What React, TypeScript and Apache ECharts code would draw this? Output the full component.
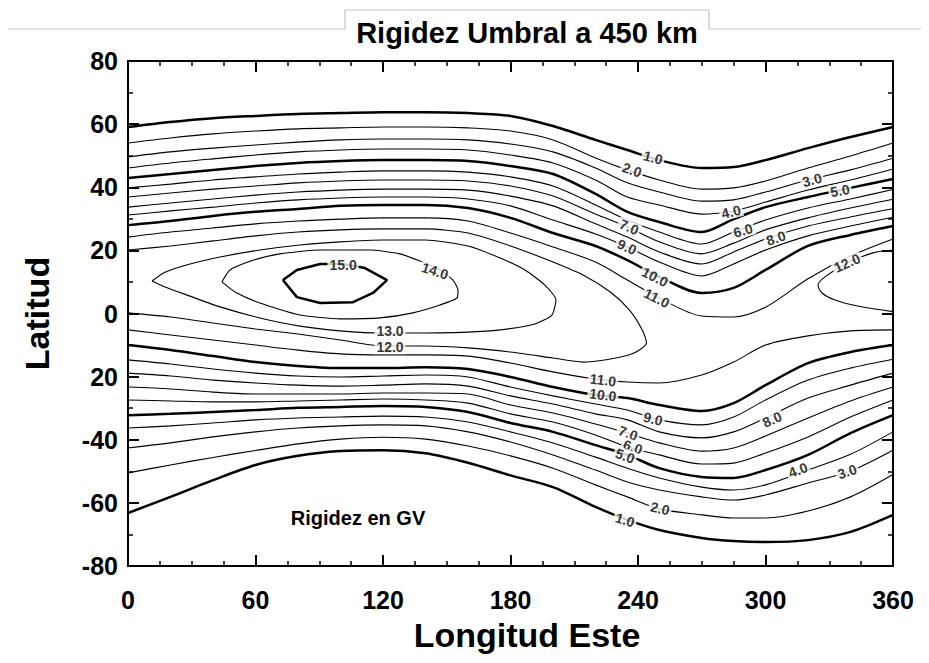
import React, { useEffect, useRef } from "react";
import * as echarts from "echarts";

// Longitude columns at which the open contours were read
const LONS = [0, 20, 40, 60, 80, 100, 120, 140, 160, 180, 200, 220, 235, 250, 270, 285, 300, 320, 340, 360];

// Northern contours (latitude at each LONS column)
const N1 = [59.1, 60.7, 61.9, 62.6, 63.2, 63.5, 63.8, 63.8, 63.5, 62.6, 59.4, 55.0, 51.8, 48.6, 46.1, 46.4, 48.6, 52.4, 55.9, 59.1];
const N2 = [54.0, 55.6, 56.9, 57.8, 58.5, 58.8, 59.1, 59.1, 58.8, 57.8, 55.0, 49.3, 45.5, 42.3, 39.4, 39.8, 42.0, 46.1, 49.9, 54.0];
const N3 = [49.6, 51.2, 52.4, 53.4, 54.3, 55.0, 55.3, 55.3, 55.0, 53.7, 51.2, 46.1, 41.4, 38.5, 35.6, 36.0, 38.5, 42.3, 45.5, 49.2];
const N4 = [46.1, 47.7, 49.0, 50.2, 51.2, 51.8, 52.1, 52.1, 51.8, 50.2, 47.7, 42.3, 36.9, 34.4, 31.5, 32.5, 35.3, 39.1, 42.3, 45.8];
const N5 = [42.9, 44.2, 45.5, 46.7, 47.7, 48.3, 48.6, 48.6, 48.3, 46.7, 44.2, 37.9, 32.2, 29.0, 25.8, 29.9, 33.7, 36.9, 39.8, 42.6];
const N6 = [39.8, 41.0, 42.3, 43.3, 44.2, 44.8, 45.2, 45.2, 44.8, 43.3, 40.4, 34.4, 29.6, 25.8, 22.0, 25.8, 29.6, 33.4, 36.3, 39.3];
const N7 = [36.9, 38.2, 39.4, 40.4, 41.4, 42.0, 42.3, 42.3, 42.0, 40.4, 37.2, 31.5, 27.4, 22.7, 18.9, 22.3, 26.5, 30.3, 33.4, 36.2];
const N8 = [33.7, 35.0, 36.3, 37.5, 38.5, 39.1, 39.4, 39.4, 39.1, 37.2, 34.1, 28.4, 24.2, 19.5, 15.7, 19.5, 23.6, 27.7, 30.6, 33.2];
const N9 = [31.2, 32.5, 33.7, 35.0, 36.0, 36.6, 36.9, 36.9, 36.3, 34.1, 29.6, 25.2, 21.1, 16.3, 11.9, 15.7, 20.1, 24.6, 27.7, 30.5];
const N10 = [28.0, 29.3, 30.9, 32.2, 33.1, 34.1, 34.4, 34.4, 33.4, 30.3, 25.5, 21.4, 16.9, 11.6, 6.5, 8.1, 13.8, 21.4, 24.9, 27.7];
const N11 = [24.2, 25.8, 27.1, 28.4, 29.3, 29.9, 30.3, 30.3, 29.3, 25.5, 21.1, 16.3, 10.6, 4.9, -0.8, -1.1, 2.0, 11.0, 18.2, 23.6];

// Southern contours
const S11 = [-5.2, -6.8, -8.4, -10.0, -11.6, -12.8, -13.1, -13.1, -13.5, -15.7, -18.5, -20.8, -21.7, -22.0, -19.5, -15.4, -10.0, -7.1, -5.5, -5.2];
const S10 = [-10.0, -11.6, -13.5, -15.4, -16.6, -17.3, -17.3, -17.0, -17.6, -20.1, -23.3, -25.8, -26.8, -29.0, -30.9, -28.4, -22.7, -15.7, -12.2, -10.0];
const S9 = [-14.7, -16.0, -17.6, -18.9, -19.8, -20.1, -19.8, -19.5, -20.1, -23.3, -26.1, -28.7, -30.6, -33.7, -35.3, -32.8, -27.4, -21.1, -17.3, -14.5];
const S8 = [-18.9, -19.8, -21.1, -22.0, -22.7, -23.0, -22.7, -22.3, -23.0, -26.1, -28.7, -31.8, -33.7, -37.5, -39.4, -37.5, -33.1, -26.8, -22.7, -18.9];
const S7 = [-23.3, -23.9, -24.9, -25.5, -25.5, -25.5, -25.2, -25.2, -25.5, -29.0, -31.5, -35.0, -37.9, -41.0, -43.6, -42.6, -38.8, -33.1, -27.7, -23.3];
const S6 = [-27.4, -27.7, -28.0, -28.0, -27.7, -27.4, -27.1, -27.4, -28.4, -31.8, -34.4, -38.5, -42.3, -44.8, -47.7, -47.4, -44.2, -39.1, -32.8, -27.4];
const S5 = [-32.2, -31.8, -31.2, -30.6, -29.9, -29.6, -29.3, -29.6, -31.2, -34.7, -37.5, -41.7, -44.8, -49.0, -51.8, -52.1, -49.6, -44.8, -37.9, -32.2];
const S4 = [-36.3, -35.6, -34.7, -33.7, -33.1, -32.8, -32.5, -32.8, -34.4, -37.5, -41.0, -45.5, -49.0, -52.1, -55.0, -55.9, -54.3, -49.6, -44.6, -37.5];
const S3 = [-42.6, -41.0, -39.1, -37.5, -36.3, -35.6, -35.3, -35.6, -37.5, -40.7, -44.8, -49.6, -53.4, -55.9, -58.1, -59.1, -57.5, -53.7, -49.9, -43.3];
const S2 = [-50.5, -48.0, -45.6, -43.4, -41.3, -39.8, -39.2, -39.8, -42.0, -45.1, -49.0, -54.3, -58.1, -61.9, -63.8, -64.8, -64.8, -62.6, -58.1, -51.0];
const S1 = [-63.2, -58.1, -52.8, -48.0, -45.1, -43.6, -43.3, -44.3, -47.3, -51.3, -55.0, -61.3, -65.4, -68.6, -71.1, -72.1, -72.4, -71.8, -69.2, -63.8];

// Closed / curved contours as [lon, lat]
const C12 = [[0, 20.1], [20, 21.4], [40, 23.0], [60, 24.6], [80, 25.8], [100, 26.5], [120, 26.8], [140, 26.8], [160, 25.5], [180, 21.4], [200, 16.3], [215, 11.9], [227, 6.8], [236, 1.1], [242, -5.2], [244, -9.3], [236, -13.1], [214, -15.4], [200, -14.1], [180, -12.2], [160, -10.9], [140, -10.3], [120, -10.3], [100, -8.4], [80, -6.5], [60, -4.9], [40, -3.0], [20, -1.1], [0, 0.2]];
const C12E = [[360, 20.1], [350.6, 19.2], [338.4, 16.0], [328, 11.6], [324.7, 9.0], [326.6, 6.5], [332.7, 4.3], [344.5, 2.2], [360, 0.6]];
const C13 = [[11.3, 10.3], [17.4, 13.1], [29.2, 15.7], [43.3, 17.9], [62.1, 20.1], [80.9, 21.7], [99.8, 22.7], [120, 23.3], [139.8, 23.3], [160, 21.4], [175.1, 17.6], [186.8, 13.8], [196.2, 9.0], [201.4, 4.3], [199.5, -0.5], [191.5, -3.3], [175.1, -5.2], [160, -5.9], [132.7, -6.2], [120, -6.2], [99.8, -5.5], [80.9, -4.0], [62.1, -1.4], [43.3, 2.1], [29.2, 5.5], [17.4, 8.4], [11.3, 10.3]];
const C14 = [[44.2, 10.0], [48, 13.8], [58.8, 16.9], [71.5, 18.9], [90.4, 20.1], [113.9, 20.1], [128, 18.9], [137.4, 16.6], [146.8, 13.8], [152.9, 10.6], [155.3, 7.4], [154.8, 4.9], [146.8, 2.7], [134.1, 0.2], [118.6, -1.4], [99.8, -1.7], [80.9, -0.5], [62.1, 3.3], [50.4, 6.8], [44.2, 10.0]];
const C15 = [[72.9, 10.6], [79.5, 13.8], [90.4, 15.7], [101.2, 15.7], [111.5, 14.4], [121.9, 10.6], [115.3, 6.5], [105.9, 3.6], [90.4, 3.3], [79.5, 5.2], [72.9, 10.6]];

// Contour labels: text, lon, lat, rotation
const CONTOUR_LABELS: [string, number, number, number][] = [
  ["1.0", 247.1, 49.4, -14], ["2.0", 237.2, 45.5, -19], ["3.0", 321.9, 42.3, 14],
  ["4.0", 283.8, 32.2, 14], ["5.0", 335.1, 38.9, 10], ["6.0", 289.4, 26.3, 16],
  ["7.0", 235.8, 27.4, -23], ["8.0", 304.9, 23.9, 19], ["9.0", 234.8, 21.1, -24],
  ["10.0", 248.0, 11.6, -27], ["11.0", 248.9, 4.9, -27], ["12.0", 338.4, 16.0, 24],
  ["15.0", 101.2, 15.4, 0], ["14.0", 144.5, 13.5, -18], ["13.0", 123.3, -5.7, 0],
  ["12.0", 123.3, -10.7, 0], ["11.0", 223.5, -21.1, -7], ["10.0", 223.5, -25.8, -7],
  ["9.0", 247.1, -33.4, -13], ["7.0", 235.3, -37.9, -20], ["6.0", 237.6, -42.3, -20],
  ["5.0", 233.9, -45.1, -20], ["8.0", 303.1, -33.6, 24], ["4.0", 315.3, -49.6, 20],
  ["3.0", 338.4, -50.1, 18], ["2.0", 250.4, -61.8, -13], ["1.0", 233.9, -65.4, -18],
];

const Y_TICK_LABELS = ["-80", "-60", "-40", "20", "0", "20", "40", "60", "80"];

const FONT = "'Liberation Sans', Arial, Helvetica, sans-serif";

export default function App() {
  const ref = useRef<HTMLDivElement>(null);

  useEffect(() => {
    if (!ref.current) return;
    const chart = echarts.init(ref.current, undefined, { renderer: "svg" });
    const zip = (lats: number[]) => LONS.map((lon, i) => [lon, lats[i]]);

    const contours: { data: number[][]; thick: boolean; smooth: number }[] = [
      { data: zip(N1), thick: true, smooth: 0.3 },
      { data: zip(N2), thick: false, smooth: 0.3 },
      { data: zip(N3), thick: false, smooth: 0.3 },
      { data: zip(N4), thick: false, smooth: 0.3 },
      { data: zip(N5), thick: true, smooth: 0.3 },
      { data: zip(N6), thick: false, smooth: 0.3 },
      { data: zip(N7), thick: false, smooth: 0.3 },
      { data: zip(N8), thick: false, smooth: 0.3 },
      { data: zip(N9), thick: false, smooth: 0.3 },
      { data: zip(N10), thick: true, smooth: 0.3 },
      { data: zip(N11), thick: false, smooth: 0.3 },
      { data: zip(S11), thick: false, smooth: 0.3 },
      { data: zip(S10), thick: true, smooth: 0.3 },
      { data: zip(S9), thick: false, smooth: 0.3 },
      { data: zip(S8), thick: false, smooth: 0.3 },
      { data: zip(S7), thick: false, smooth: 0.3 },
      { data: zip(S6), thick: false, smooth: 0.3 },
      { data: zip(S5), thick: true, smooth: 0.3 },
      { data: zip(S4), thick: false, smooth: 0.3 },
      { data: zip(S3), thick: false, smooth: 0.3 },
      { data: zip(S2), thick: false, smooth: 0.3 },
      { data: zip(S1), thick: true, smooth: 0.3 },
      { data: C12, thick: false, smooth: 0.25 },
      { data: C12E, thick: false, smooth: 0.3 },
      { data: C13, thick: false, smooth: 0.2 },
      { data: C14, thick: false, smooth: 0.2 },
      { data: C15, thick: true, smooth: 0 },
    ];

    const lineSeries = contours.map((c) => ({
      type: "line",
      data: c.data,
      smooth: c.smooth,
      showSymbol: false,
      symbol: "none",
      silent: true,
      z: 2,
      lineStyle: { color: "#000", width: c.thick ? 2.5 : 1.1 },
    }));

    const labelSeries = {
      type: "scatter",
      symbolSize: 0,
      silent: true,
      z: 5,
      data: CONTOUR_LABELS.map(([t, lon, lat, r]) => ({
        name: t,
        value: [lon, lat],
        label: { rotate: r },
      })),
      label: {
        show: true,
        formatter: "{b}",
        position: "inside",
        fontSize: 14,
        lineHeight: 14,
        fontWeight: "bold",
        fontFamily: FONT,
        color: "#000",
        backgroundColor: "#fff",
        padding: [0, 2],
      },
    };

    const axisCommon = {
      axisLine: { show: true, onZero: false, lineStyle: { color: "#000", width: 2 } },
      axisTick: { show: true, inside: true, length: 11, lineStyle: { color: "#000", width: 2 } },
      splitLine: { show: false },
      minorSplitLine: { show: false },
    };

    chart.setOption({
      animation: false,
      backgroundColor: "#fff",
      grid: { left: 128, top: 61, width: 765, height: 505, containLabel: false },
      xAxis: [
        {
          type: "value", min: 0, max: 360, interval: 60, position: "bottom", ...axisCommon,
          minorTick: { show: true, splitNumber: 4, length: 5, lineStyle: { color: "#000", width: 1.5 } },
          axisLabel: { fontSize: 25, fontWeight: "bold", color: "#000", margin: 21, fontFamily: FONT },
          name: "Longitud Este", nameLocation: "middle", nameGap: 52,
          nameTextStyle: { fontSize: 34, fontWeight: "bold", color: "#000", fontFamily: FONT, padding: [0, 0, 0, 33] },
        },
        {
          type: "value", min: 0, max: 360, interval: 60, position: "top", ...axisCommon,
          minorTick: { show: true, splitNumber: 4, length: 5, lineStyle: { color: "#000", width: 1.5 } },
          axisLabel: { show: false },
        },
      ],
      yAxis: [
        {
          type: "value", min: -80, max: 80, interval: 20, position: "left", ...axisCommon,
          minorTick: { show: true, splitNumber: 2, length: 5, lineStyle: { color: "#000", width: 1.5 } },
          axisLabel: {
            fontSize: 25, fontWeight: "bold", color: "#000", margin: 10, fontFamily: FONT,
            formatter: (v: number) => Y_TICK_LABELS[Math.round((v + 80) / 20)] ?? String(v),
          },
          name: "Latitud", nameLocation: "middle", nameGap: 74, nameRotate: 90,
          nameTextStyle: { fontSize: 34, fontWeight: "bold", color: "#000", fontFamily: FONT },
        },
        {
          type: "value", min: -80, max: 80, interval: 20, position: "right", ...axisCommon,
          minorTick: { show: true, splitNumber: 2, length: 5, lineStyle: { color: "#000", width: 1.5 } },
          axisLabel: { show: false },
        },
      ],
      graphic: [
        {
          type: "polyline",
          shape: { points: [[8, 29], [345, 29], [345, 10], [709, 10], [709, 29], [921, 29]] },
          style: { stroke: "#c4c4c4", lineWidth: 1.2, fill: "none" },
          silent: true,
        },
        {
          type: "text", x: 527, y: 33,
          style: {
            text: "Rigidez Umbral a 450 km", fontSize: 29, fontWeight: "bold", fontFamily: FONT,
            fill: "#000", textAlign: "center", textVerticalAlign: "middle",
          },
        },
        {
          type: "text", x: 358, y: 518,
          style: {
            text: "Rigidez en GV", fontSize: 20, fontWeight: "bold", fontFamily: FONT,
            fill: "#000", textAlign: "center", textVerticalAlign: "middle",
          },
        },
      ],
      series: [...lineSeries, labelSeries],
    });

    return () => chart.dispose();
  }, []);

  return <div ref={ref} style={{ position: "absolute", left: 0, top: 0, width: 929, height: 663 }} />;
}
